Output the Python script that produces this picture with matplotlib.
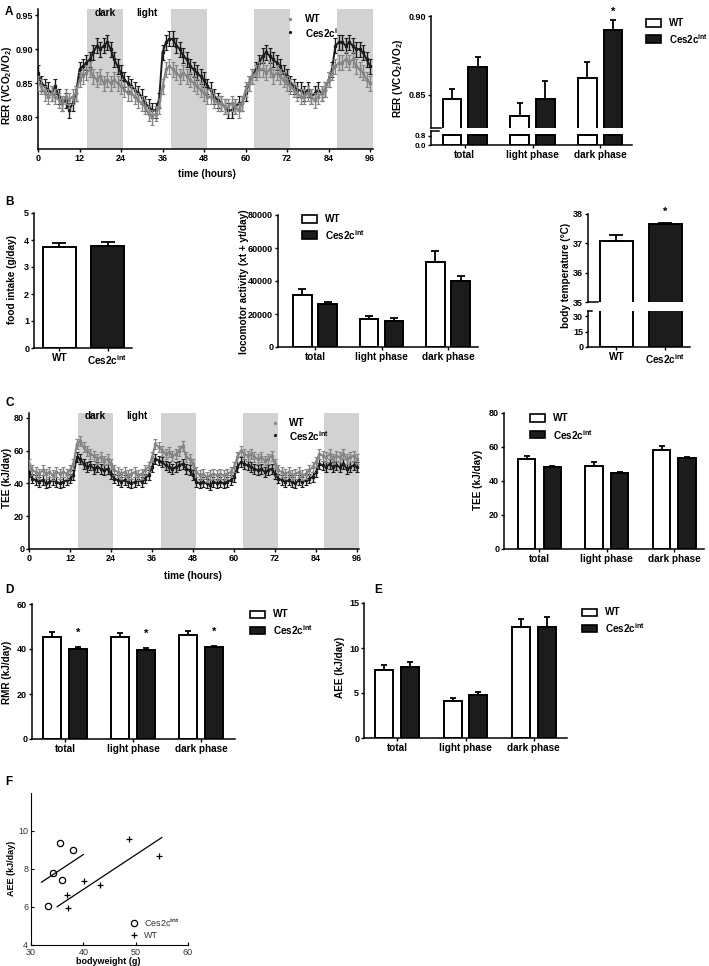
import numpy as np
import matplotlib
matplotlib.use('Agg')
import matplotlib.pyplot as plt
from matplotlib.patches import Rectangle
from matplotlib.lines import Line2D

plt.rcParams['font.family'] = ['Liberation Sans', 'DejaVu Sans']
plt.rcParams['font.weight'] = 'bold'
plt.rcParams['mathtext.fontset'] = 'custom'
plt.rcParams['mathtext.bf'] = 'Liberation Sans:bold'
plt.rcParams['mathtext.rm'] = 'Liberation Sans'
plt.rcParams['mathtext.it'] = 'Liberation Sans:italic'

# ---------------- data ----------------
hours = list(range(97))
rer_ces = [0.865, 0.85, 0.845, 0.84, 0.835, 0.845, 0.83, 0.82, 0.825, 0.81,
           0.82, 0.835, 0.87, 0.875, 0.88, 0.885, 0.895, 0.905, 0.90, 0.905,
           0.91, 0.90, 0.885, 0.875, 0.865, 0.855, 0.85, 0.845, 0.84, 0.835,
           0.83, 0.82, 0.815, 0.81, 0.81, 0.825, 0.895, 0.91, 0.915, 0.915,
           0.905, 0.90, 0.89, 0.885, 0.875, 0.87, 0.865, 0.86, 0.855, 0.845,
           0.84, 0.83, 0.825, 0.82, 0.815, 0.81, 0.81, 0.815, 0.82, 0.82,
           0.835, 0.85, 0.86, 0.87, 0.88, 0.89, 0.895, 0.89, 0.885, 0.88,
           0.875, 0.865, 0.86, 0.85, 0.845, 0.84, 0.84, 0.835, 0.84, 0.83,
           0.835, 0.84, 0.835, 0.84, 0.855, 0.87, 0.905, 0.91, 0.91, 0.905,
           0.91, 0.905, 0.90, 0.90, 0.895, 0.885, 0.875]
rer_wt = [0.85, 0.845, 0.835, 0.83, 0.835, 0.83, 0.825, 0.82, 0.83, 0.825,
          0.83, 0.835, 0.855, 0.86, 0.865, 0.87, 0.86, 0.855, 0.86, 0.85,
          0.855, 0.85, 0.855, 0.85, 0.845, 0.84, 0.835, 0.835, 0.83, 0.825,
          0.82, 0.815, 0.805, 0.80, 0.805, 0.815, 0.845, 0.87, 0.875, 0.87,
          0.865, 0.86, 0.865, 0.86, 0.855, 0.85, 0.845, 0.84, 0.835, 0.83,
          0.83, 0.825, 0.82, 0.82, 0.815, 0.815, 0.82, 0.815, 0.81, 0.82,
          0.84, 0.85, 0.86, 0.865, 0.87, 0.87, 0.865, 0.87, 0.86, 0.865,
          0.86, 0.855, 0.85, 0.845, 0.84, 0.835, 0.83, 0.83, 0.835, 0.83,
          0.825, 0.83, 0.835, 0.84, 0.855, 0.865, 0.875, 0.88, 0.88, 0.885,
          0.88, 0.885, 0.875, 0.87, 0.865, 0.855, 0.85]
rer_sem = 0.011

tee_wt = [52, 48, 47, 46, 48, 46, 47, 45, 47, 46, 47, 46, 48, 52, 64, 66, 62, 60, 58, 57,
          55, 56, 54, 55, 52, 48, 47, 46, 47, 45, 46, 47, 45, 46, 48, 50, 56, 64, 62, 60,
          58, 59, 57, 58, 60, 63, 56, 55, 52, 47, 45, 46, 44, 45, 46, 45, 46, 45, 46, 47,
          50, 56, 60, 58, 57, 58, 56, 55, 56, 54, 55, 57, 52, 48, 47, 46, 47, 45, 46, 47,
          45, 46, 48, 50, 53, 58, 57, 56, 58, 55, 57, 56, 58, 55, 56, 57, 55]
tee_ces = [47, 43, 42, 41, 42, 40, 41, 42, 41, 40, 41, 42, 43, 45, 56, 55, 52, 50, 51, 49,
           50, 49, 48, 49, 46, 43, 42, 41, 42, 41, 40, 41, 42, 41, 43, 45, 50, 55, 54, 53,
           51, 50, 49, 50, 51, 52, 49, 48, 45, 41, 40, 41, 40, 39, 41, 40, 41, 40, 41, 42,
           44, 50, 53, 52, 51, 50, 49, 48, 49, 47, 48, 49, 46, 43, 42, 41, 42, 41, 40, 42,
           41, 42, 43, 44, 47, 52, 51, 50, 52, 50, 51, 50, 52, 49, 50, 51, 50]
tee_sem = 3.0
dark_start = [14.2, 38.5, 62.5, 86.4]
dark_len = 10.5

phases = ['total', 'light phase', 'dark phase']
genotypes = ['WT', r'Ces2c$^{\mathbf{int}}$']

rer_wt_bar = [0.8475, 0.8367, 0.8608]
rer_wt_err = [0.0065, 0.0083, 0.0102]
rer_ces_bar = [0.8677, 0.8475, 0.8911]
rer_ces_err = [0.0063, 0.0115, 0.0064]

food = [3.74, 3.76]
food_err = [0.14, 0.16]

loco_wt = [31500, 17200, 51800]
loco_wt_err = [3600, 1600, 6600]
loco_ces = [26000, 15800, 40000]
loco_ces_err = [1300, 1800, 3000]

temp = [37.07, 37.66]
temp_err = [0.22, 0.04]

tee_wt_bar = [52.9, 48.8, 58.2]
tee_wt_err = [1.8, 2.4, 2.4]
tee_ces_bar = [48.2, 44.7, 53.5]
tee_ces_err = [0.6, 0.6, 0.6]

rmr_wt = [45.3, 45.2, 46.2]
rmr_wt_err = [2.3, 1.8, 1.9]
rmr_ces = [40.0, 39.6, 40.8]
rmr_ces_err = [0.9, 0.8, 0.7]

aee_wt = [7.56, 4.1, 12.35]
aee_wt_err = [0.55, 0.35, 0.85]
aee_ces = [7.9, 4.8, 12.3]
aee_ces_err = [0.55, 0.35, 1.2]

bw_ces = [33.3, 34.2, 35.6, 35.96, 38.08]
aee_ind_ces = [6.07, 7.77, 9.38, 7.42, 9.0]
bw_wt = [36.86, 37.1, 40.2, 43.1, 48.7, 54.55]
aee_ind_wt = [6.62, 5.93, 7.38, 7.14, 9.56, 8.67]
fit_range_ces = [32, 40]
fit_range_wt = [35, 55]

# ---------------- figure ----------------
W, H = 709.0, 966.0
fig = plt.figure(figsize=(W / 100, H / 100), dpi=100)
BLACK = '#1c1c1c'
GREY = '#858585'
SPAN = '#d2d2d2'
TFS = 6.5    # tick font size
LFS = 7.2    # label font size


def add_ax(l, t, r, b):
    return fig.add_axes([l / W, 1 - b / H, (r - l) / W, (b - t) / H])


def style(ax, fs=TFS):
    for s in ['top', 'right']:
        ax.spines[s].set_visible(False)
    for s in ['left', 'bottom']:
        ax.spines[s].set_linewidth(1.1)
    ax.tick_params(direction='out', length=2.5, width=1.0, labelsize=fs, pad=1)
    ax.patch.set_alpha(0)


def ftext(x, y, s, **kw):
    kw.setdefault('fontsize', LFS)
    kw.setdefault('fontweight', 'bold')
    return fig.text(x / W, 1 - y / H, s, **kw)


def ylabel(x, y, s, fs=LFS):
    ftext(x, y, s, rotation=90, ha='center', va='center', fontsize=fs)


def bars(ax, wt, wt_err, ces, ces_err, off, width, cap):
    x = np.arange(len(wt))
    ax.bar(x - off, wt, width, color='white', edgecolor='black', linewidth=1.4, zorder=2)
    ax.bar(x + off, ces, width, color=BLACK, edgecolor='black', linewidth=1.4, zorder=2)
    ax.errorbar(x - off, wt, yerr=[np.zeros(len(wt)), wt_err], fmt='none', ecolor='black',
                elinewidth=1.3, capsize=cap, capthick=1.3, zorder=3)
    ax.errorbar(x + off, ces, yerr=[np.zeros(len(ces)), ces_err], fmt='none', ecolor='black',
                elinewidth=1.3, capsize=cap, capthick=1.3, zorder=3)


def bar_legend(x, y1, y2, fs=LFS):
    for yy, fc, lab in [(y1, 'white', 'WT'), (y2, BLACK, genotypes[1])]:
        fig.add_artist(Rectangle((x / W, 1 - (yy + 3.5) / H), 15 / W, 7 / H, facecolor=fc,
                                 edgecolor='black', linewidth=1.2, transform=fig.transFigure))
        ftext(x + 23, yy, lab, va='center', ha='left', fontsize=fs)


def star(ax, x, y, dy):
    ax.annotate('*', xy=(x, y), xytext=(0, dy), textcoords='offset pixels', ha='center',
                va='center', fontsize=8, fontweight='bold', annotation_clip=False)


def timeseries(ax, wt, ces, sem_wt, sem_ces, xlim, ylim):
    for s in dark_start:
        ax.axvspan(s, s + dark_len, color=SPAN, lw=0, zorder=1)
    ax.errorbar(hours, ces, yerr=sem_ces, color=BLACK, lw=1.4, marker='s', ms=1.6,
                elinewidth=1.0, capsize=1.2, capthick=0.8, zorder=2)
    ax.errorbar(hours, wt, yerr=sem_wt, color=GREY, lw=1.4, marker='s', ms=1.6,
                elinewidth=1.0, capsize=1.2, capthick=0.8, zorder=3)
    ax.set_xlim(*xlim)
    ax.set_ylim(*ylim)
    ax.set_xticks(range(0, 97, 12))
    style(ax)


# ---------- A left ----------
axA = add_ax(38, 9, 373.5, 149)
timeseries(axA, rer_wt, rer_ces, rer_sem, rer_sem, (0, 97), (0.753, 0.959))
axA.set_yticks([0.80, 0.85, 0.90, 0.95])
axA.set_yticklabels(['0.80', '0.85', '0.90', '0.95'])
axA.text(77.2, 0.9443, 'WT', fontsize=LFS, va='center', zorder=0.5)
axA.text(77.2, 0.9237, r'Ces2c$^{\mathbf{int}}$', fontsize=LFS, va='center', zorder=0.5)
axA.plot([72.8], [0.9443], 'o', ms=1.3, color=GREY, zorder=3)
axA.plot([72.8], [0.9252], 'o', ms=1.3, color=BLACK, zorder=3)
ftext(105, 13, 'dark', ha='center', va='center')
ftext(147, 13, 'light', ha='center', va='center')
ftext(207, 174, 'time (hours)', ha='center', va='center')
ylabel(7, 85, r'RER (VCO$_\mathbf{2}$/VO$_\mathbf{2}$)')

# ---------- A right (broken axis) ----------
axAu = add_ax(431, 16, 632, 128)
axAl = add_ax(431, 131, 632, 145)
for ax in (axAu, axAl):
    bars(ax, rer_wt_bar, rer_wt_err, rer_ces_bar, rer_ces_err, 0.19, 0.275, 2.5)
    ax.set_xlim(-0.5, 2.47)
    style(ax)
axAu.set_ylim(0.829, 0.90)
axAu.set_yticks([0.85, 0.90])
axAu.set_yticklabels(['0.85', '0.90'])
axAu.spines['bottom'].set_visible(False)
axAu.set_xticks([])
axAu.add_line(Line2D([0, 0.05], [0, 0], transform=axAu.transAxes, color='black', lw=1.1, clip_on=False))
axAl.set_ylim(0, 1.2)
axAl.set_yticks([0, 0.8])
axAl.set_yticklabels(['0.0', '0.8'])
axAl.tick_params(axis='y', labelsize=5.8)
axAl.set_xticks([0, 1, 2])
axAl.set_xticklabels(phases)
axAl.tick_params(axis='x', labelsize=LFS)
axAl.add_line(Line2D([0, 0.04], [1, 1], transform=axAl.transAxes, color='black', lw=1.1, clip_on=False))
star(axAu, 2 + 0.19, rer_ces_bar[2] + rer_ces_err[2], 8)
bar_legend(646, 23, 39, fs=7)
ylabel(398, 78, r'RER (VCO$_\mathbf{2}$/VO$_\mathbf{2}$)')

# ---------- B food intake ----------
axF1 = add_ax(34, 213, 132, 348)
x2 = np.arange(2)
axF1.bar(x2, food, 0.69, color=['white', BLACK], edgecolor='black', linewidth=1.4, zorder=2)
axF1.errorbar(x2, food, yerr=[np.zeros(2), food_err], fmt='none', ecolor='black', elinewidth=1.3,
              capsize=5, capthick=1.3, zorder=3)
axF1.set_xlim(-0.53, 1.51)
axF1.set_ylim(0, 5)
axF1.set_xticks(x2)
axF1.set_xticklabels(genotypes)
style(axF1)
axF1.tick_params(axis='x', labelsize=LFS)
ylabel(12, 280, 'food intake (g/day)')

# ---------- B locomotor ----------
axL = add_ax(278, 215, 478, 347)
bars(axL, loco_wt, loco_wt_err, loco_ces, loco_ces_err, 0.19, 0.278, 3)
axL.set_xlim(-0.556, 2.45)
axL.set_ylim(0, 80000)
axL.set_yticks(range(0, 80001, 20000))
axL.set_xticks([0, 1, 2])
axL.set_xticklabels(phases)
style(axL)
axL.tick_params(axis='x', labelsize=LFS)
bar_legend(302, 219, 235)
ylabel(244, 282, 'locomotor activity (xt + yt/day)')

# ---------- B body temperature (broken axis) ----------
axTu = add_ax(588, 214, 690, 302)
axTl = add_ax(588, 311, 690, 347)
for ax in (axTu, axTl):
    ax.bar(x2, temp, 0.67, color=['white', BLACK], edgecolor='black', linewidth=1.4, zorder=2)
    ax.set_xlim(-0.58, 1.5)
    style(ax)
axTu.errorbar(x2, temp, yerr=[np.zeros(2), temp_err], fmt='none', ecolor='black', elinewidth=1.3,
              capsize=5, capthick=1.3, zorder=3)
axTu.set_ylim(35, 38)
axTu.set_yticks([35, 36, 37, 38])
axTu.spines['bottom'].set_visible(False)
axTu.set_xticks([])
axTu.add_line(Line2D([0, 0.1], [0, 0], transform=axTu.transAxes, color='black', lw=1.1, clip_on=False))
axTl.set_ylim(0, 35)
axTl.set_yticks([0, 15, 30])
axTl.set_xticks(x2)
axTl.set_xticklabels(genotypes)
axTl.tick_params(axis='x', labelsize=LFS)
axTl.add_line(Line2D([0, 0.04], [1, 1], transform=axTl.transAxes, color='black', lw=1.1, clip_on=False))
star(axTu, 1, temp[1] + temp_err[1], 11)
ylabel(566, 275, 'body temperature (°C)')

# ---------- C left ----------
axC = add_ax(29, 413, 358.7, 549)
timeseries(axC, tee_wt, tee_ces, tee_sem, tee_sem, (0, 96.5), (0, 83))
axC.set_yticks(range(0, 81, 20))
axC.text(76.2, 76.9, 'WT', fontsize=LFS, va='center', zorder=5)
axC.text(76.2, 69.0, r'Ces2c$^{\mathbf{int}}$', fontsize=LFS, va='center', zorder=5)
axC.plot([72.1], [76.9], 'o', ms=1.3, color=GREY, zorder=3)
axC.plot([72.1], [69.5], 'o', ms=1.3, color=BLACK, zorder=3)
ftext(95, 416, 'dark', ha='center', va='center')
ftext(137, 416, 'light', ha='center', va='center')
ftext(193, 576, 'time (hours)', ha='center', va='center')
ylabel(7, 478, 'TEE (kJ/day)')

# ---------- C right ----------
axC2 = add_ax(504, 413, 704, 549)
bars(axC2, tee_wt_bar, tee_wt_err, tee_ces_bar, tee_ces_err, 0.19, 0.26, 2.5)
axC2.set_xlim(-0.526, 2.44)
axC2.set_ylim(0, 80)
axC2.set_yticks(range(0, 81, 20))
axC2.set_xticks([0, 1, 2])
axC2.set_xticklabels(phases)
style(axC2)
axC2.tick_params(axis='x', labelsize=LFS)
bar_legend(530, 418, 435)
ylabel(478, 480, 'TEE (kJ/day)')

# ---------- D ----------
axD = add_ax(32, 604, 235, 739)
bars(axD, rmr_wt, rmr_wt_err, rmr_ces, rmr_ces_err, 0.19, 0.265, 2.5)
axD.set_xlim(-0.485, 2.5)
axD.set_ylim(0, 60)
axD.set_yticks(range(0, 61, 20))
axD.set_xticks([0, 1, 2])
axD.set_xticklabels(phases)
style(axD)
axD.tick_params(axis='x', labelsize=LFS)
for i in range(3):
    star(axD, i + 0.19, rmr_ces[i] + rmr_ces_err[i], 14)
bar_legend(250, 614, 630)
ylabel(7, 672, 'RMR (kJ/day)')

# ---------- E ----------
axE = add_ax(364, 603, 567, 738)
bars(axE, aee_wt, aee_wt_err, aee_ces, aee_ces_err, 0.19, 0.265, 2.5)
axE.set_xlim(-0.49, 2.49)
axE.set_ylim(0, 15)
axE.set_yticks([0, 5, 10, 15])
axE.set_xticks([0, 1, 2])
axE.set_xticklabels(phases)
style(axE)
axE.tick_params(axis='x', labelsize=LFS)
bar_legend(582, 612, 628)
ylabel(340, 667, 'AEE (kJ/day)')

# ---------- F ----------
axFF = add_ax(31, 793, 188, 945)
bc, ac = np.array(bw_ces), np.array(aee_ind_ces)
bwt, awt = np.array(bw_wt), np.array(aee_ind_wt)
# ANCOVA style fit: common slope, separate intercepts
sxy = np.sum((bc - bc.mean()) * (ac - ac.mean())) + np.sum((bwt - bwt.mean()) * (awt - awt.mean()))
sxx = np.sum((bc - bc.mean()) ** 2) + np.sum((bwt - bwt.mean()) ** 2)
slope = sxy / sxx
for xs, xm, ym in [(fit_range_ces, bc.mean(), ac.mean()), (fit_range_wt, bwt.mean(), awt.mean())]:
    xs = np.array(xs, dtype=float)
    axFF.plot(xs, ym + slope * (xs - xm), color='black', lw=0.9)
axFF.plot(bc, ac, 'o', mfc='none', mec='black', mew=0.9, ms=4.5, ls='none',
          label=r'Ces2c$^{\mathrm{int}}$')
axFF.plot(bwt, awt, '+', color='black', mew=0.9, ms=5, ls='none', label='WT')
axFF.set_xlim(30, 60)
axFF.set_ylim(4, 12)
axFF.set_xticks([30, 40, 50, 60])
axFF.set_yticks([4, 6, 8, 10])
for s in ['top', 'right']:
    axFF.spines[s].set_visible(False)
for s in ['left', 'bottom']:
    axFF.spines[s].set_linewidth(0.8)
axFF.tick_params(direction='in', length=2, width=0.8, labelsize=6.5, labelcolor='#333333', pad=2)
for lab in axFF.get_xticklabels() + axFF.get_yticklabels():
    lab.set_fontweight('normal')
leg = axFF.legend(loc='center left', bbox_to_anchor=(0.6, 0.11), frameon=False, fontsize=6.5,
                  handlelength=1.0, handletextpad=0.6, labelspacing=0.3, borderpad=0)
for t in leg.get_texts():
    t.set_fontweight('normal')
    t.set_color('#333333')
ftext(108, 961, 'bodyweight (g)', ha='center', va='center', fontsize=6.5)
ylabel(12, 868, 'AEE (kJ/day)', fs=6.5)

# ---------- panel letters ----------
for lt, x, y in [('A', 5, 12), ('B', 5, 202), ('C', 5, 403), ('D', 5, 590), ('E', 374, 590), ('F', 5, 782)]:
    ftext(x, y, lt, fontsize=8.5, ha='left', va='center')

fig.savefig('out.png', dpi=100)
